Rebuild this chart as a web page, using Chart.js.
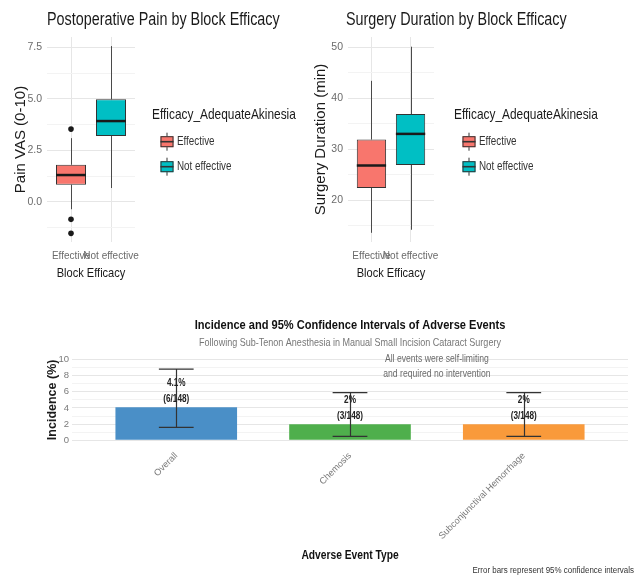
<!DOCTYPE html>
<html>
<head>
<meta charset="utf-8">
<title>Block efficacy and adverse events</title>
<script src="https://cdn.jsdelivr.net/npm/chart.js@4.4.1/dist/chart.umd.min.js"></script>
<style>
  html, body { margin: 0; padding: 0; background: #ffffff; }
  #wrap { position: relative; width: 636px; height: 575px; overflow: hidden; background: #ffffff; }
  canvas { position: absolute; }
</style>
</head>
<body>
<div id="wrap">
  <canvas id="painChart" width="300" height="290" style="left:0;top:0;width:300px;height:290px"></canvas>
  <canvas id="durationChart" width="336" height="290" style="left:300px;top:0;width:336px;height:290px"></canvas>
  <canvas id="eventsChart" width="636" height="285" style="left:0;top:290px;width:636px;height:285px"></canvas>
</div>
<script>
// ---- Data ----------------------------------------------------------------
const groups = ['Effective', 'Not effective'];
const groupColors = ['#F8766D', '#00BFC4'];

// Postoperative pain (VAS 0-10): box-plot summaries per group
const painMin = [-0.36, 0.67];
const painQ1 = [0.83, 3.2];
const painMedian = [1.3, 3.92];
const painQ3 = [1.8, 4.98];
const painMax = [3.09, 7.56];
const painOutliers = [[3.53, -0.85, -1.53], []];
const painTicks = [0, 2.5, 5, 7.5];
const painMinorTicks = [-1.25, 1.25, 3.75, 6.25];

// Surgery duration (min): box-plot summaries per group
const durMin = [13.6, 14.2];
const durQ1 = [22.4, 26.9];
const durMedian = [26.8, 33.0];
const durQ3 = [31.9, 36.9];
const durMax = [43.4, 50.1];
const durOutliers = [[], []];
const durTicks = [20, 30, 40, 50];
const durMinorTicks = [15, 25, 35, 45];

// Adverse events
const events = ['Overall', 'Chemosis', 'Subconjunctival Hemorrhage'];
const incidence = [4.1, 2, 2];
const ciLow = [1.6, 0.5, 0.5];
const ciHigh = [8.8, 5.9, 5.9];
const rateLabels = ['4.1%', '2%', '2%'];
const countLabels = ['(6/148)', '(3/148)', '(3/148)'];
const eventColors = ['#4A8FC7', '#4FAF4C', '#F99A3B'];
const incidenceTicks = [0, 2, 4, 6, 8, 10];
const incidenceMinorTicks = [1, 3, 5, 7, 9];

// ---- Styling -------------------------------------------------------------
const SANS = "'Liberation Sans', Arial, sans-serif";
const SQUEEZE = 0.82;          // horizontal condensing for headings and notes
const GRID_MAJOR = '#e6e6e6';
const GRID_MINOR = '#f3f3f3';
const INK = '#1a1a1a';

Chart.defaults.font.family = SANS;
Chart.defaults.color = '#666';
Chart.defaults.animation = false;

// Draws a line of condensed text centred vertically on y
function squeezeText(ctx, text, x, y, font, color, align) {
  ctx.save();
  ctx.font = font;
  ctx.fillStyle = color;
  ctx.textAlign = align || 'left';
  ctx.textBaseline = 'middle';
  ctx.translate(x, y);
  ctx.scale(SQUEEZE, 1);
  ctx.fillText(text, 0, 0);
  ctx.restore();
}

// ---- Plugins -------------------------------------------------------------

// Whiskers under the boxes, median bars over them
const boxStats = {
  id: 'boxStats',
  beforeDatasetsDraw(chart, args, opts) {
    if (!opts.min) return;
    const meta = chart.getDatasetMeta(0);
    const y = chart.scales.y;
    const ctx = chart.ctx;
    ctx.save();
    ctx.strokeStyle = '#4a4a4a';
    ctx.lineWidth = 1;
    meta.data.forEach((bar, i) => {
      const x = Math.round(bar.x) + 0.5;
      ctx.beginPath();
      ctx.moveTo(x, y.getPixelForValue(opts.max[i]));
      ctx.lineTo(x, y.getPixelForValue(opts.q3[i]));
      ctx.moveTo(x, y.getPixelForValue(opts.q1[i]));
      ctx.lineTo(x, y.getPixelForValue(opts.min[i]));
      ctx.stroke();
    });
    ctx.restore();
  },
  afterDatasetsDraw(chart, args, opts) {
    if (!opts.median) return;
    const meta = chart.getDatasetMeta(0);
    const y = chart.scales.y;
    const ctx = chart.ctx;
    ctx.save();
    ctx.strokeStyle = INK;
    ctx.lineWidth = 2.5;
    meta.data.forEach((bar, i) => {
      const py = y.getPixelForValue(opts.median[i]);
      ctx.beginPath();
      ctx.moveTo(bar.x - bar.width / 2, py);
      ctx.lineTo(bar.x + bar.width / 2, py);
      ctx.stroke();
    });
    ctx.restore();
  }
};

// Panel heading and x-axis title of a box-plot panel
const panelText = {
  id: 'panelText',
  afterDraw(chart, args, opts) {
    if (!opts.title) return;
    const a = chart.chartArea;
    squeezeText(chart.ctx, opts.title, a.left + opts.titleDx, opts.titleY, '17.5px ' + SANS, INK, 'left');
    squeezeText(chart.ctx, opts.xTitle, (a.left + a.right) / 2, opts.xTitleY, '13.5px ' + SANS, INK, 'center');
  }
};

// Fill legend with box-plot keys, right of the panel
const boxLegend = {
  id: 'boxLegend',
  afterDraw(chart, args, opts) {
    if (!opts.title) return;
    const ctx = chart.ctx;
    const x0 = chart.chartArea.right + opts.dx;
    squeezeText(ctx, opts.title, x0, opts.titleY, '14.5px ' + SANS, INK, 'left');
    opts.labels.forEach((label, i) => {
      const yc = opts.firstY + i * opts.step;
      const kx = x0 + opts.keyDx;
      const kw = 13;
      ctx.save();
      ctx.strokeStyle = '#333';
      ctx.lineWidth = 1;
      ctx.beginPath();
      ctx.moveTo(kx + kw / 2, yc - 9);
      ctx.lineTo(kx + kw / 2, yc + 9);
      ctx.stroke();
      ctx.fillStyle = opts.colors[i];
      ctx.fillRect(kx, yc - 5.5, kw, 11);
      ctx.strokeRect(kx + 0.5, yc - 5, kw - 1, 10);
      ctx.lineWidth = 1.6;
      ctx.beginPath();
      ctx.moveTo(kx, yc);
      ctx.lineTo(kx + kw, yc);
      ctx.stroke();
      ctx.restore();
      squeezeText(ctx, label, x0 + opts.textDx, yc, '12px ' + SANS, '#333', 'left');
    });
  }
};

// Confidence-interval error bars and the rate / count labels
const errorBars = {
  id: 'errorBars',
  afterDatasetsDraw(chart, args, opts) {
    if (!opts.low) return;
    const xs = chart.scales.x, ys = chart.scales.y;
    const ctx = chart.ctx;
    ctx.save();
    ctx.strokeStyle = '#333';
    ctx.lineWidth = 1.2;
    opts.low.forEach((lo, i) => {
      const x = Math.round(xs.getPixelForValue(i)) + 0.5;
      const xl = xs.getPixelForValue(i - opts.capHalf);
      const xr = xs.getPixelForValue(i + opts.capHalf);
      const yl = ys.getPixelForValue(lo);
      const yh = ys.getPixelForValue(opts.high[i]);
      ctx.beginPath();
      ctx.moveTo(x, yh); ctx.lineTo(x, yl);
      ctx.moveTo(xl, yh); ctx.lineTo(xr, yh);
      ctx.moveTo(xl, yl); ctx.lineTo(xr, yl);
      ctx.stroke();
    });
    ctx.restore();
    opts.values.forEach((v, i) => {
      const x = xs.getPixelForValue(i);
      const yc = ys.getPixelForValue(v + opts.labelOffset);
      squeezeText(ctx, opts.rates[i], x, yc - 8, 'bold 10px ' + SANS, '#222', 'center');
      squeezeText(ctx, opts.counts[i], x, yc + 8, 'bold 10px ' + SANS, '#222', 'center');
    });
  }
};

// Headings, axis title, in-panel note and corner caption of the events chart
const eventNotes = {
  id: 'eventNotes',
  afterDraw(chart, args, opts) {
    if (!opts.lines) return;
    const ctx = chart.ctx;
    const a = chart.chartArea;
    const xs = chart.scales.x, ys = chart.scales.y;
    const mid = (a.left + a.right) / 2;
    squeezeText(ctx, opts.title, mid, opts.titleY, 'bold 13.5px ' + SANS, '#111', 'center');
    squeezeText(ctx, opts.subtitle, mid, opts.subtitleY, '11px ' + SANS, '#777', 'center');
    squeezeText(ctx, opts.xTitle, mid, opts.xTitleY, 'bold 12.5px ' + SANS, '#111', 'center');
    const cx = xs.getPixelForValue(opts.x);
    const cy = ys.getPixelForValue(opts.y);
    opts.lines.forEach((t, i) => {
      squeezeText(ctx, t, cx, cy + (i - (opts.lines.length - 1) / 2) * 14.7, '10.5px ' + SANS, '#6a6a6a', 'center');
    });
    squeezeText(ctx, opts.caption, chart.width - 2, chart.height - 4.5, '9.7px ' + SANS, '#333', 'right');
  }
};

// ---- Helpers -------------------------------------------------------------
function valueAxis(min, max, major, minor, fmt) {
  const all = major.concat(minor).sort((a, b) => a - b);
  return {
    type: 'linear',
    min: min,
    max: max,
    afterBuildTicks: s => { s.ticks = all.map(v => ({ value: v })); },
    grid: {
      color: c => (c.tick && major.includes(c.tick.value)) ? GRID_MAJOR : GRID_MINOR,
      drawTicks: false
    },
    border: { display: false },
    ticks: {
      autoSkip: false,
      callback: v => major.includes(v) ? fmt(v) : ''
    }
  };
}

function boxChart(id, o) {
  const yAxis = valueAxis(o.yMin, o.yMax, o.major, o.minor, o.fmt);
  yAxis.afterFit = s => { s.width = o.axisWidth; };
  yAxis.ticks.color = '#6b6b6b';
  yAxis.ticks.padding = 5;
  yAxis.ticks.font = { family: SANS, size: 10.5 };
  yAxis.title = {
    display: true, text: o.yTitle, color: INK,
    font: { family: SANS, size: 15 },
    padding: { top: 12, bottom: 0 }
  };
  const outlierPoints = [];
  o.outliers.forEach((list, i) => list.forEach(v => outlierPoints.push({ x: i, y: v })));

  return new Chart(document.getElementById(id), {
    type: 'bar',
    data: {
      datasets: [{
        data: groups.map((g, i) => ({ x: i, y: [o.q1[i], o.q3[i]] })),
        backgroundColor: groupColors,
        borderColor: '#333333',
        borderWidth: 1,
        borderSkipped: false,
        categoryPercentage: 0.75,
        barPercentage: 1.0
      }, {
        type: 'scatter',
        data: outlierPoints,
        pointRadius: 2.8,
        pointBackgroundColor: INK,
        pointBorderWidth: 0
      }]
    },
    options: {
      responsive: false,
      devicePixelRatio: 1,
      events: [],
      layout: { padding: { left: 0, right: o.rightPad, top: 37, bottom: 0 } },
      scales: {
        x: {
          type: 'linear', min: -0.6, max: 1.6, offset: false,
          afterBuildTicks: s => { s.ticks = groups.map((g, i) => ({ value: i })); },
          afterFit: s => { s.height = 48; },
          grid: { color: GRID_MAJOR, drawTicks: false, offset: false },
          border: { display: false },
          ticks: {
            autoSkip: false, maxRotation: 0, minRotation: 0, padding: 8,
            color: '#6b6b6b', font: { family: SANS, size: 10 },
            callback: v => groups[v]
          }
        },
        y: yAxis
      },
      plugins: {
        legend: { display: false },
        tooltip: { enabled: false },
        boxStats: { min: o.min, q1: o.q1, median: o.median, q3: o.q3, max: o.max },
        panelText: { title: o.title, titleDx: o.titleDx, titleY: 20, xTitle: 'Block Efficacy', xTitleY: 273 },
        boxLegend: {
          title: 'Efficacy_AdequateAkinesia', labels: groups, colors: groupColors,
          dx: o.legendDx, keyDx: 8.5, textDx: 25, titleY: 115, firstY: 141.7, step: 25
        }
      }
    },
    plugins: [boxStats, panelText, boxLegend]
  });
}

// ---- Charts --------------------------------------------------------------
boxChart('painChart', {
  title: 'Postoperative Pain by Block Efficacy', titleDx: 0,
  yTitle: 'Pain VAS (0-10)',
  yMin: -1.95, yMax: 8.0, major: painTicks, minor: painMinorTicks,
  fmt: v => v.toFixed(1),
  min: painMin, q1: painQ1, median: painMedian, q3: painQ3, max: painMax,
  outliers: painOutliers,
  axisWidth: 47, rightPad: 165, legendDx: 17
});

boxChart('durationChart', {
  title: 'Surgery Duration by Block Efficacy', titleDx: -2,
  yTitle: 'Surgery Duration (min)',
  yMin: 11.8, yMax: 52.0, major: durTicks, minor: durMinorTicks,
  fmt: v => String(v),
  min: durMin, q1: durQ1, median: durMedian, q3: durQ3, max: durMax,
  outliers: durOutliers,
  axisWidth: 48, rightPad: 202, legendDx: 20
});

const incAxis = valueAxis(-0.5, 10.5, incidenceTicks, incidenceMinorTicks, v => String(v));
incAxis.afterFit = s => { s.width = 72; };
incAxis.ticks.color = '#7a7a7a';
incAxis.ticks.padding = 3;
incAxis.ticks.font = { family: SANS, size: 9.5 };
incAxis.title = {
  display: true, text: 'Incidence (%)', color: INK,
  font: { family: SANS, size: 12.5, weight: 'bold' },
  padding: { top: 45, bottom: 0 }
};

new Chart(document.getElementById('eventsChart'), {
  type: 'bar',
  data: {
    datasets: [{
      data: events.map((e, i) => ({ x: i, y: incidence[i] })),
      backgroundColor: eventColors,
      borderWidth: 0,
      categoryPercentage: 0.7,
      barPercentage: 1.0
    }]
  },
  options: {
    responsive: false,
    devicePixelRatio: 1,
    events: [],
    layout: { padding: { left: 0, right: 8, top: 65.3, bottom: 0 } },
    scales: {
      x: {
        type: 'linear', min: -0.6, max: 2.6, offset: false,
        afterBuildTicks: s => { s.ticks = events.map((e, i) => ({ value: i })); },
        afterFit: s => { s.height = 130.6; },
        grid: { display: false, offset: false },
        border: { display: false },
        ticks: {
          autoSkip: false, maxRotation: 45, minRotation: 45, padding: -2,
          color: '#7a7a7a', font: { family: SANS, size: 9.2 },
          callback: v => events[v]
        }
      },
      y: incAxis
    },
    plugins: {
      legend: { display: false },
      tooltip: { enabled: false },
      errorBars: {
        low: ciLow, high: ciHigh, capHalf: 0.1,
        values: incidence, rates: rateLabels, counts: countLabels, labelOffset: 2
      },
      eventNotes: {
        title: 'Incidence and 95% Confidence Intervals of Adverse Events', titleY: 35,
        subtitle: 'Following Sub-Tenon Anesthesia in Manual Small Incision Cataract Surgery', subtitleY: 53.3,
        xTitle: 'Adverse Event Type', xTitleY: 266,
        x: 1.5, y: 9.1,
        lines: ['All events were self-limiting', 'and required no intervention'],
        caption: 'Error bars represent 95% confidence intervals'
      }
    }
  },
  plugins: [errorBars, eventNotes]
});
</script>
</body>
</html>
